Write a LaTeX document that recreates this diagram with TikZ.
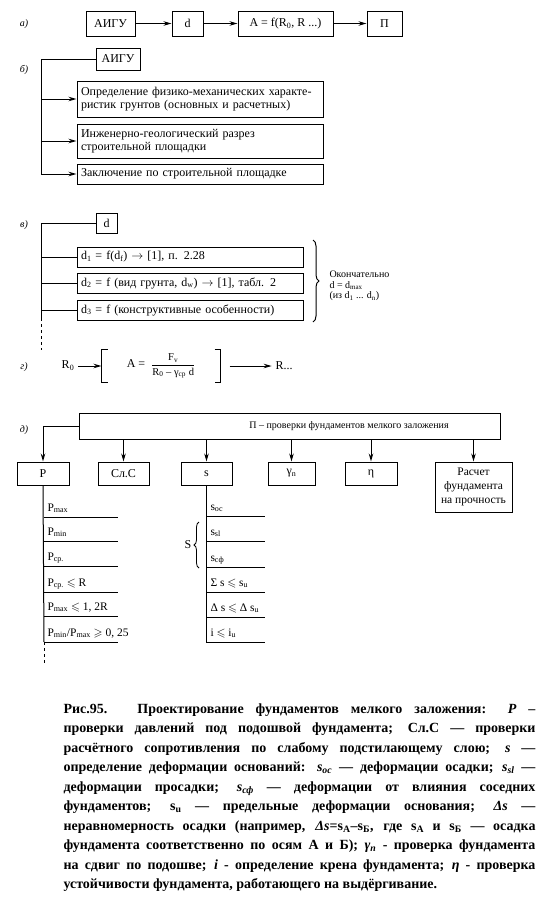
\documentclass[tikz,border=0pt]{standalone}
\usepackage{fontspec}
\setmainfont{Liberation Serif}
\usepackage{amsmath,amssymb}
\usetikzlibrary{arrows.meta,positioning,calc,decorations.pathreplacing}

\newcommand{\sbt}[1]{\textsubscript{#1}}

\begin{document}
\begin{tikzpicture}[x=1pt, y=-1pt,
		line width=1pt,
		box/.style={draw, inner sep=2pt, font=\fontsize{12}{13}\selectfont},
		bbox/.style={box, text width=238pt, inner xsep=4pt, align=left},
		dbox/.style={box, text width=218pt, inner xsep=4pt, align=left, minimum height=20pt},
		tag/.style={font=\fontsize{10}{11}\selectfont\itshape},
		item/.style={anchor=base west, inner sep=1pt, font=\fontsize{11.5}{12}\selectfont},
		>={Stealth[length=8pt,width=4.5pt]}
		]

		\useasboundingbox (0,0) rectangle (545,903);

		% а)
		\node[tag] (ta) at (24,24) {а)};
		\node[box, minimum width=49pt, minimum height=25pt] (aigu1) at (110.5,23.5) {АИГУ};
		\node[box, minimum width=31pt, minimum height=25pt] (d1) at (187.5,23.5) {d};
		\node[box, minimum width=95pt, minimum height=25pt] (A1) at (285.5,23.5) {A = f(R\sbt{0}, R ...)};
		\node[box, minimum width=35pt, minimum height=25pt] (P1) at (384.5,23.5) {П};

		\draw[->] (aigu1) -- (d1);
		\draw[->] (d1) -- (A1);
		\draw[->] (A1) -- (P1);

		% б)
		\node[tag] (tb) at (24,70) {б)};
		\node[box, minimum width=44pt, minimum height=22pt] (aigu2) at (118,59) {АИГУ};
		\node[bbox, minimum height=36pt] (b1) at (200,99) {Определение физико-механических характе-\\ристик грунтов (основных и расчетных)};
		\node[bbox, minimum height=34pt] (b2) at (200,141) {Инженерно-геологический разрез\\строительной площадки};
		\node[bbox, minimum height=20pt] (b3) at (200,174) {Заключение по строительной площадке};
		\coordinate (bt) at (41,59);

		\draw[->] (aigu2.west) -| (bt |- b3.west) -- (b3.west);
		\draw[->] (bt |- b1.west) -- (b1.west);
		\draw[->] (bt |- b2.west) -- (b2.west);

		% в)
		\node[tag] (tv) at (24,225) {в)};
		\node[box, minimum width=21pt, minimum height=20pt] (d2) at (106.5,223) {d};
		\node[dbox] (dd1) at (190,257) {d\sbt{1} = f(d\sbt{f}) $\rightarrow$ [1], п. 2.28};
		\node[dbox] (dd2) at (190,283) {d\sbt{2} = f (вид грунта, d\sbt{w}) $\rightarrow$ [1], табл. 2};
		\node[dbox] (dd3) at (190,310) {d\sbt{3} = f (конструктивные особенности)};
		\coordinate (vt) at (41,223);
		\coordinate (ve) at (41,318);
		\coordinate (vd) at (41,350);

		\draw (d2.west) -- (vt) -- (ve);
		\draw[dashed] (ve) -- (vd);
		\draw (vt |- dd1.west) -- (dd1.west);
		\draw (vt |- dd2.west) -- (dd2.west);
		\draw (vt |- dd3.west) -- (dd3.west);

		\draw[decorate, decoration={brace, amplitude=6pt}] (313,240) -- (313,322);
		\node[anchor=west, align=left, inner sep=0pt, font=\fontsize{10}{10.5}\selectfont] (fin) at (329,286) {Окончательно\\d = d\sbt{max}\\(из d\sbt{1} ... d\sbt{n})};

		% г)
		\node[tag] (tg) at (24,367) {г)};
		\node[font=\fontsize{12}{13}\selectfont] (R0) at (68,366) {R\sbt{0}};
		\node[minimum width=118pt, minimum height=32pt, inner sep=0pt, font=\fontsize{12}{13}\selectfont] (frm) at (161,366)
			{A = \ {\fontsize{10.5}{11}\selectfont$\dfrac{\text{\ F\sbt{v}\ }}{\text{R\sbt{0} – γ\sbt{ср} d}}$}};
		\node[font=\fontsize{12}{13}\selectfont] (Rn) at (284,366) {R...};

		\draw ([xshift=6pt]frm.north west) -- (frm.north west) -- (frm.south west) -- ([xshift=6pt]frm.south west);
		\draw ([xshift=-6pt]frm.north east) -- (frm.north east) -- (frm.south east) -- ([xshift=-6pt]frm.south east);
		\draw[->] (R0) -- (frm.west);
		\draw[->] ([xshift=9pt]frm.east) -- (Rn);

		% д)
		\node[tag] (td) at (24,430) {д)};
		\node[box, minimum width=421pt, minimum height=26pt] (pk) at (289.5,426) {};
		\node[font=\fontsize{10}{11}\selectfont] (pkt) at (349,426) {П – проверки фундаментов мелкого заложения};

		\node[box, minimum width=52pt, minimum height=23pt] (Pr) at (43,473.5) {P};
		\node[box, minimum width=51pt, minimum height=23pt] (Sl) at (123.5,473.5) {Сл.С};
		\node[box, minimum width=51pt, minimum height=23pt] (sr) at (206.5,473.5) {s};
		\node[box, minimum width=47pt, minimum height=23pt] (gr) at (291.5,473.5) {γ\sbt{n}};
		\node[box, minimum width=52pt, minimum height=23pt] (er) at (371,473.5) {η};
		\node[box, minimum width=77pt, minimum height=50pt, align=center, font=\fontsize{11.5}{14}\selectfont] (rr) at (473.5,487) {Расчет\\фундамента\\на прочность};

		\draw[->] (pk.west) -| (Pr.north);
		\draw[->] (pk.south -| Sl.north) -- (Sl.north);
		\draw[->] (pk.south -| sr.north) -- (sr.north);
		\draw[->] (pk.south -| gr.north) -- (gr.north);
		\draw[->] (pk.south -| er.north) -- (er.north);
		\draw[->] (pk.south -| rr.north) -- (rr.north);

		% проверки P
		\node[item] (p1) at (46,511) {P\sbt{max}};
		\node[item] (p2) at (46,535) {P\sbt{min}};
		\node[item] (p3) at (46,560) {P\sbt{ср.}};
		\node[item] (p4) at (46,586) {P\sbt{ср.} $\leqslant$ R};
		\node[item] (p5) at (46,610) {P\sbt{max} $\leqslant$ 1, 2R};
		\node[item] (p6) at (46,636) {P\sbt{min}/P\sbt{max} $\geqslant$ 0, 25};
		\coordinate (pe) at (44,642);
		\coordinate (pd) at (44,664);

		\draw (Pr.south) -- (pe);
		\draw[dashed] (pe) -- (pd);
		\draw (pe |- 0,517) -- ++(74,0);
		\draw (pe |- 0,541) -- ++(74,0);
		\draw (pe |- 0,566) -- ++(74,0);
		\draw (pe |- 0,592) -- ++(74,0);
		\draw (pe |- 0,616) -- ++(74,0);
		\draw (pe) -- ++(74,0);

		% проверки s
		\node[item] (s1) at (209,510) {s\sbt{ос}};
		\node[item] (s2) at (209,535) {s\sbt{sl}};
		\node[item] (s3) at (209,561) {s\sbt{сф}};
		\node[item] (s4) at (209,586) {Σ s $\leqslant$ s\sbt{u}};
		\node[item] (s5) at (209,611) {Δ s $\leqslant$ Δ s\sbt{u}};
		\node[item] (s6) at (209,636) {i $\leqslant$ i\sbt{u}};
		\coordinate (se) at (206.5,642);

		\draw (sr.south) -- (se) -- ++(58,0);
		\draw (se |- 0,516) -- ++(58,0);
		\draw (se |- 0,541) -- ++(58,0);
		\draw (se |- 0,567) -- ++(58,0);
		\draw (se |- 0,592) -- ++(58,0);
		\draw (se |- 0,617) -- ++(58,0);

		\draw[line width=0.8pt, decorate, decoration={brace, amplitude=5pt}] (199,568) -- (199,522);
		\node[font=\fontsize{12}{13}\selectfont] (S) at (188,545) {S};

		% подпись
		\node[anchor=north west, text width=472pt, align=justify, inner sep=0pt,
			font=\bfseries\fontsize{14}{19.5}\selectfont] (cap) at (63,703) {%
			Рис.95. Проектирование фундаментов мелкого заложения: \textit{P} –\linebreak
			проверки давлений под подошвой фундамента; Сл.С — проверки\linebreak
			расчётного сопротивления по слабому подстилающему слою; \textit{s} —\linebreak
			определение деформации оснований: \textit{s}\sbt{\textit{ос}} — деформации осадки; \textit{s}\sbt{\textit{sl}} —\linebreak
			деформации просадки; \textit{s}\sbt{\textit{сф}} — деформации от влияния соседних\linebreak
			фундаментов; s\sbt{u} — предельные деформации основания; \textit{Δs} —\linebreak
			неравномерность осадки (например, \textit{Δs}=s\sbt{A}–s\sbt{Б}, где s\sbt{A} и s\sbt{Б} — осадка\linebreak
			фундамента соответственно по осям А и Б); \textit{γ}\sbt{\textit{n}} - проверка фундамента\linebreak
			на сдвиг по подошве; \textit{i} - определение крена фундамента; \textit{η} - проверка\linebreak
			устойчивости фундамента, работающего на выдёргивание.};
	\end{tikzpicture}
\end{document}
